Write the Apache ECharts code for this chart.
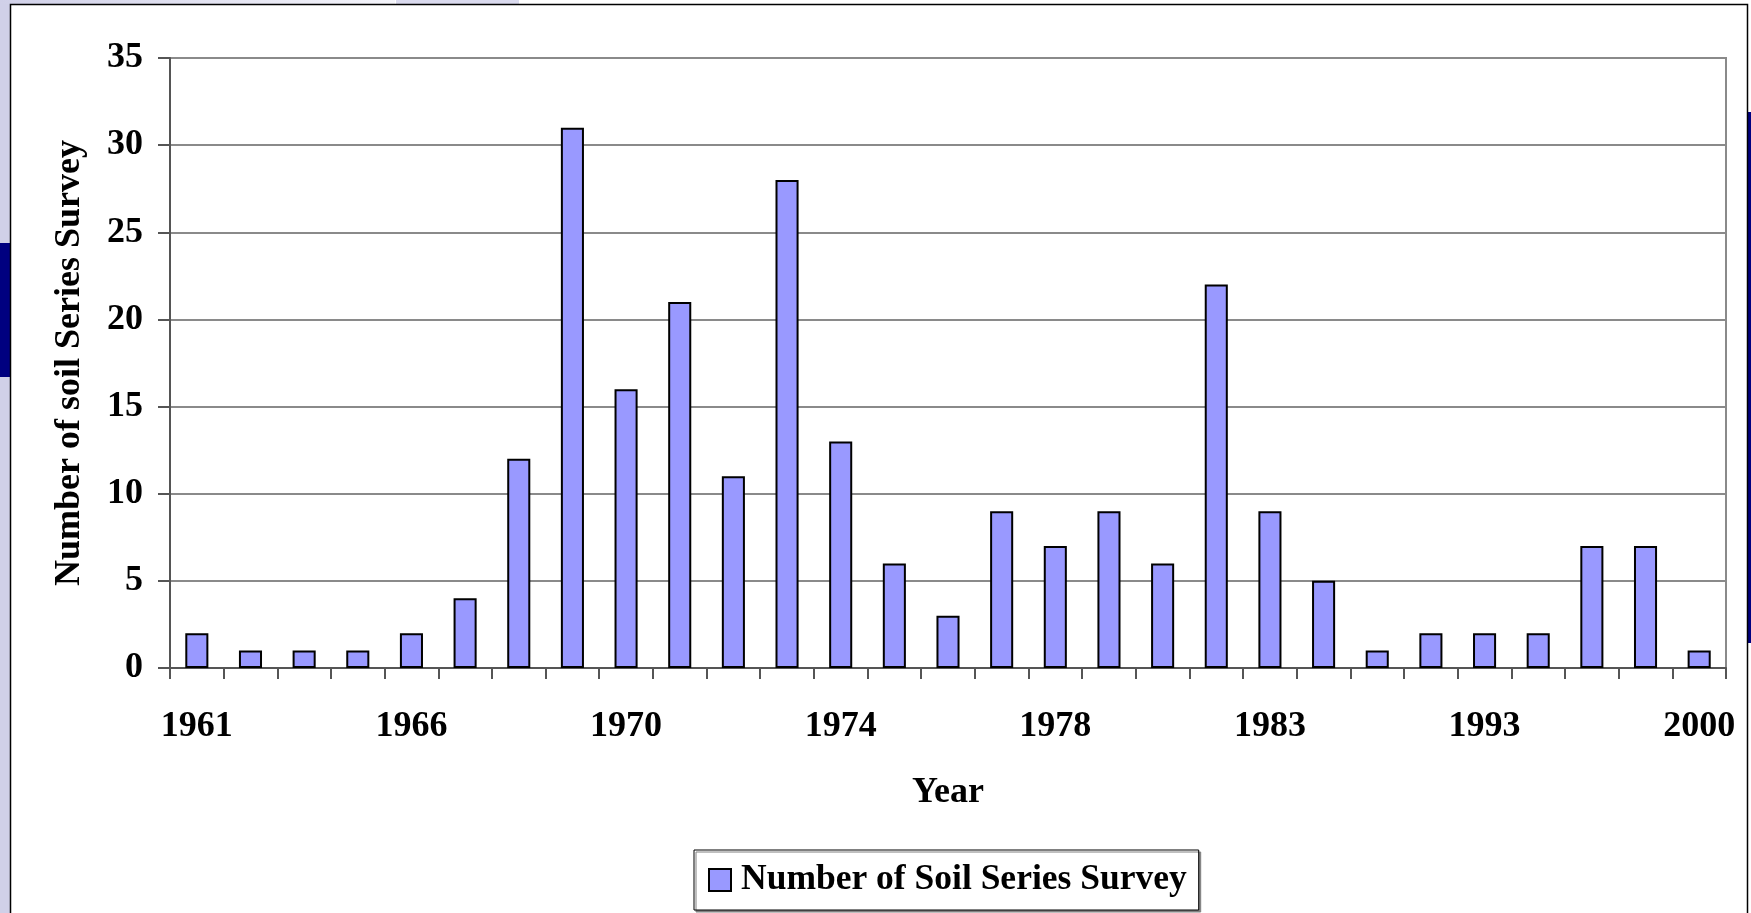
<!DOCTYPE html>
<html>
<head>
<meta charset="utf-8">
<title>Number of Soil Series Survey</title>
<script src="https://cdn.jsdelivr.net/npm/echarts@6/dist/echarts.min.js"></script>
<style>
  html, body { margin: 0; padding: 0; background: #ffffff; }
  #chart { width: 1751px; height: 913px; }
</style>
</head>
<body>
<div id="chart"></div>
<script>
// Survey years (only every fourth year is labelled on the axis)
const years = ['1961', '1962', '1963', '1965', '1966', '1967', '1968', '1969', '1970', '1971',
               '1972', '1973', '1974', '1975', '1976', '1977', '1978', '1979', '1980', '1982',
               '1983', '1984', '1988', '1991', '1993', '1995', '1996', '1998', '2000'];
// Number of soil series surveyed in each year
const surveyCounts = [2, 1, 1, 1, 2, 4, 12, 31, 16, 21,
                      11, 28, 13, 6, 3, 9, 7, 9, 6, 22,
                      9, 5, 1, 2, 2, 2, 7, 7, 1];
const seriesName = 'Number of Soil Series Survey';
const yTitle = 'Number of soil Series Survey';
const xTitle = 'Year';

const FONT = '"Liberation Serif", "Times New Roman", serif';
const FS = 36;
const chart = echarts.init(document.getElementById('chart'), null, { renderer: 'canvas' });

chart.setOption({
  backgroundColor: '#ffffff',
  animation: false,
  textStyle: { fontFamily: FONT },
  graphic: [
    // slide frame decoration
    { type: 'rect', silent: true, z: -10, shape: { x: 0, y: 0, width: 10, height: 913 }, style: { fill: '#d0d0e8' } },
    { type: 'rect', silent: true, z: -9, shape: { x: 0, y: 243, width: 10, height: 134 }, style: { fill: '#000080' } },
    { type: 'rect', silent: true, z: -10, shape: { x: 0, y: 0, width: 395, height: 4 },
      style: { fill: new echarts.graphic.LinearGradient(0, 0, 1, 0, [
        { offset: 0, color: '#d0d0e8' }, { offset: 1, color: '#f4f4fa' }]) } },
    { type: 'rect', silent: true, z: -10, shape: { x: 396, y: 0, width: 123, height: 4 }, style: { fill: '#dadaee' } },
    { type: 'rect', silent: true, z: -9, shape: { x: 1748, y: 112, width: 3, height: 531 }, style: { fill: '#000080' } },
    // chart frame
    { type: 'rect', silent: true, z: 100,
      shape: { x: 10.5, y: 4.5, width: 1737, height: 930 },
      style: { fill: 'none', stroke: '#000000', lineWidth: 1.5 } }
  ],
  grid: {
    left: 170, right: 25, top: 58, bottom: 245,
    show: true, borderColor: '#8a8a8a', borderWidth: 2, backgroundColor: 'transparent'
  },
  legend: {
    left: 694, top: 850,
    padding: [12, 12, 12, 14],
    backgroundColor: '#ffffff',
    borderColor: '#000000', borderWidth: 1,
    shadowColor: '#808080', shadowOffsetX: 2, shadowOffsetY: 2, shadowBlur: 0,
    icon: 'rect', itemWidth: 22, itemHeight: 22,
    itemStyle: { color: '#9999ff', borderColor: '#000000', borderWidth: 2 },
    textStyle: { fontFamily: FONT, fontSize: 35.5, fontWeight: 'bold', color: '#000000', padding: [0, 0, 0, 5] },
    data: [seriesName]
  },
  xAxis: {
    type: 'category',
    data: years,
    boundaryGap: true,
    name: xTitle,
    nameLocation: 'middle',
    nameGap: 107,
    nameTextStyle: { fontFamily: FONT, fontSize: FS, fontWeight: 'bold', color: '#000000' },
    axisLine: { show: true, lineStyle: { color: '#555555', width: 2 } },
    axisTick: { show: true, interval: 0, length: 11, lineStyle: { color: '#555555', width: 2 } },
    axisLabel: { interval: 3, margin: 41, fontFamily: FONT, fontSize: FS, fontWeight: 'bold', color: '#000000' },
    splitLine: { show: false }
  },
  yAxis: {
    type: 'value',
    min: 0, max: 35, interval: 5,
    name: yTitle,
    nameLocation: 'middle',
    nameGap: 82,
    nameRotate: 90,
    nameTextStyle: { fontFamily: FONT, fontSize: FS, fontWeight: 'bold', color: '#000000' },
    axisLine: { show: true, lineStyle: { color: '#555555', width: 2 } },
    axisTick: { show: true, length: 12, lineStyle: { color: '#555555', width: 2 } },
    axisLabel: { margin: 27, padding: [6, 0, 0, 0], fontFamily: FONT, fontSize: FS, fontWeight: 'bold', color: '#000000' },
    splitLine: { show: true, lineStyle: { color: '#8a8a8a', width: 2 } }
  },
  series: [{
    name: seriesName,
    type: 'bar',
    data: surveyCounts,
    barWidth: '43%',
    itemStyle: { color: '#9999ff', borderColor: '#000000', borderWidth: 2 }
  }]
});
</script>
</body>
</html>
